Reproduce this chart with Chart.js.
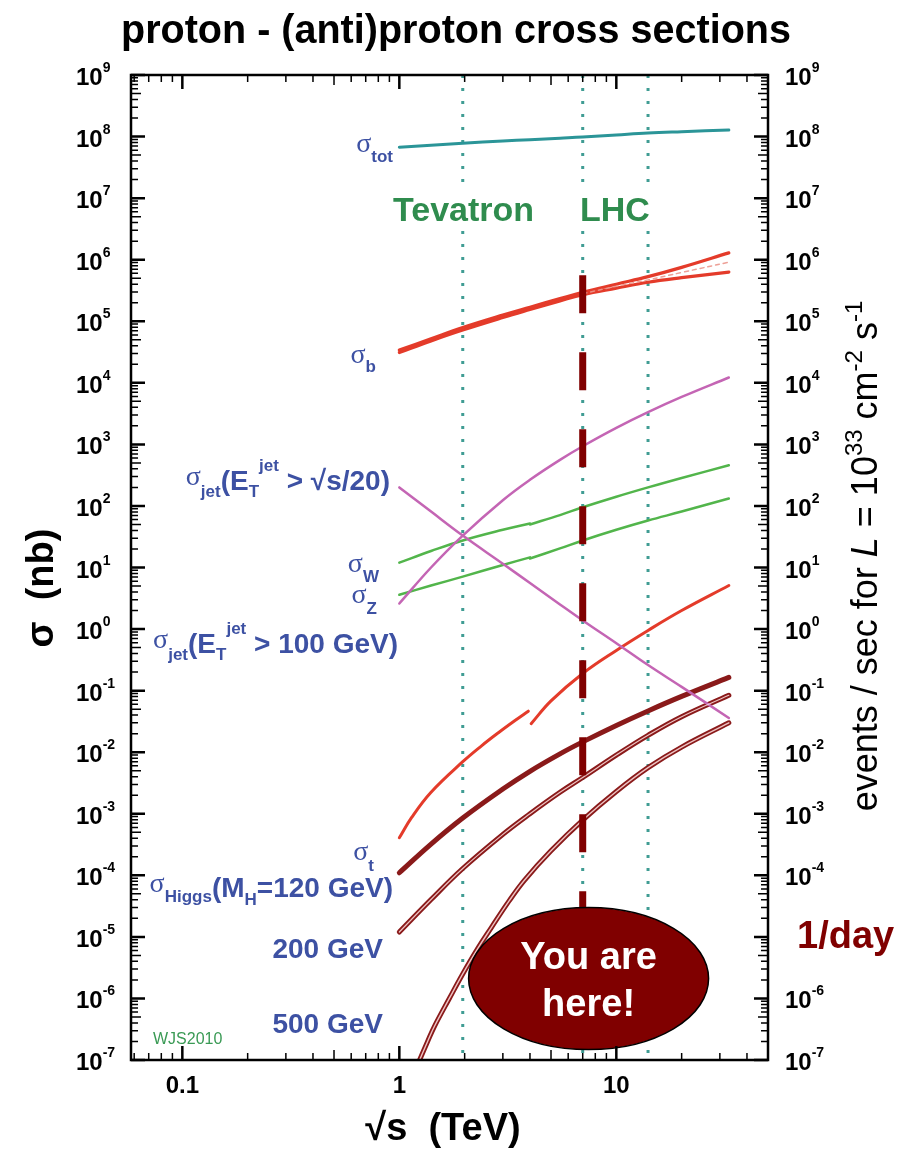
<!DOCTYPE html>
<html>
<head>
<meta charset="utf-8">
<title>proton - (anti)proton cross sections</title>
<script src="https://cdn.jsdelivr.net/npm/chart.js@4.4.1/dist/chart.umd.min.js"></script>
<style>
  html, body { margin: 0; padding: 0; background: #ffffff; }
  canvas { display: block; }
</style>
</head>
<body>
<canvas id="xsec" width="912" height="1150"></canvas>
<script>
// ---- data: cross sections in nb versus collision energy sqrt(s) in TeV ----
const energyGrid = [1, 1.4, 1.96, 3, 4, 5.5, 7, 10, 14, 20, 33];

const sigmaTot      = [6.7e7, 7.2e7, 7.8e7, 8.5e7, 8.9e7, 9.4e7, 9.8e7, 1.06e8, 1.14e8, 1.2e8, 1.28e8];
const sigmaBUpper   = [3.4e4, 5.2e4, 7.9e4, 1.26e5, 1.69e5, 2.33e5, 2.95e5, 4.0e5, 5.3e5, 7.5e5, 1.29e6];
const sigmaBLower   = [3.1e4, 4.8e4, 7.2e4, 1.15e5, 1.55e5, 2.14e5, 2.7e5, 3.45e5, 4.3e5, 5.1e5, 6.3e5];
const energyBCentral = [7, 10, 14, 20, 33];
const sigmaBCentral  = [2.8e5, 3.7e5, 4.7e5, 6.2e5, 9.1e5];

const sigmaJetScaled = [200, 81, 33, 11.5, 5.6, 2.51, 1.38, 0.59, 0.26, 0.115, 0.036];  // E_T > sqrt(s)/20
const sigmaJet100    = [2.6, 10, 33, 124, 266, 560, 931, 1850, 3330, 5890, 1.22e4];     // E_T > 100 GeV

const energyPpbar = [1, 1.4, 1.96, 3, 4];
const energyPp    = [4, 5.5, 7, 10, 14, 20, 33];
const sigmaWPpbar = [12, 18.5, 27.5, 41, 52];
const sigmaWPp    = [50, 71, 95, 141, 200, 285, 457];
const sigmaZPpbar = [3.6, 5.1, 7.1, 11, 14.6];
const sigmaZPp    = [14.0, 20.4, 27.5, 41, 58, 81, 132];

const energyTopPpbar = [1, 1.14, 1.4, 1.96, 2.4, 2.86, 3.4, 3.93];
const sigmaTopPpbar  = [4.07e-4, 8.73e-4, 2.24e-3, 7.0e-3, 1.28e-2, 2.07e-2, 3.24e-2, 4.64e-2];
const energyTopPp    = [4.05, 5, 7, 10, 14, 20, 33];
const sigmaTopPp     = [0.029, 0.068, 0.19, 0.45, 0.95, 2.0, 5.1];

const sigmaHiggs120 = [1.1e-4, 3.21e-4, 8.51e-4, 2.52e-3, 4.9e-3, 9.4e-3, 0.0147, 0.0272, 0.0468, 0.0805, 0.164];
const sigmaHiggs200 = [1.2e-5, 4.04e-5, 1.29e-4, 4.62e-4, 1.0e-3, 2.23e-3, 3.88e-3, 8.97e-3, 0.0188, 0.0377, 0.0841];
const energyHiggs500 = [1.24, 1.35, 1.45, 1.7, 1.96, 2.3, 2.65, 3.2, 3.77, 5, 7, 10, 14, 20, 33];
const sigmaHiggs500  = [1.0e-7, 2.0e-7, 3.5e-7, 1.0e-6, 2.5e-6, 6.5e-6, 1.4e-5, 3.8e-5, 8.3e-5, 2.5e-4, 7.9e-4, 2.3e-3, 5.6e-3, 0.0121, 0.030];

// collider energies
const tevatronEnergy = 1.96;
const lhcEnergies = [7, 14];
const currentLhcEnergy = 7;
const currentLineTop = 5.6e5;
const currentLineBottom = 2e-6;
const bubbleCenter = { energy: 7.45, sigma: 2.1e-6 };
const oneEventPerDay = 1 / 86400;   // events/s, equals sigma in nb at L = 1e33 cm^-2 s^-1

// axes
const energyRange = [0.058, 50];
const sigmaRange = [1e-7, 1e9];
const decadeExponents = [-7, -6, -5, -4, -3, -2, -1, 0, 1, 2, 3, 4, 5, 6, 7, 8, 9];
const rateAxisExponents = [-7, -6, -4, -3, -2, -1, 0, 1, 2, 3, 4, 5, 6, 7, 8, 9];  // 1e-5 slot carries "1/day"
const energyTickLabels = [0.1, 1, 10];

// ---- styling ----
const SANS = '"Liberation Sans", Arial, Helvetica, sans-serif';
const SERIF = '"Liberation Serif", "DejaVu Serif", serif';
const BLUE = '#3d51a3';
const GREEN_TEXT = '#2f8c4e';
const TEAL = '#2b9598';
const DOT_TEAL = '#3f9c93';
const RED = '#e43b2a';
const PURPLE = '#c465b4';
const GREEN = '#52b54b';
const DARK_RED = '#8a1a1a';
const MAROON = '#800000';

const pts = (xs, ys) => xs.map((x, i) => ({ x, y: ys[i] }));

function curve(xs, ys, color, width, extra) {
  return Object.assign({
    data: pts(xs, ys), showLine: true, borderColor: color, borderWidth: width,
    pointRadius: 0, fill: false, tension: 0.4,
    borderCapStyle: 'round', order: 2
  }, extra || {});
}

function verticalLine(energy, top, bottom, color, width, dash, order) {
  return {
    data: [{ x: energy, y: top }, { x: energy, y: bottom }], showLine: true,
    borderColor: color, borderWidth: width, borderDash: dash, pointRadius: 0,
    fill: false, tension: 0, borderCapStyle: 'butt', order: order
  };
}

const higgsCore = 'rgba(255,225,225,0.85)';

const datasets = [
  verticalLine(currentLhcEnergy, currentLineTop, currentLineBottom, MAROON, 7, [38, 39], 1),
  verticalLine(tevatronEnergy, sigmaRange[1], sigmaRange[0], DOT_TEAL, 3, [3, 10], 5),
  ...lhcEnergies.map(e => verticalLine(e, sigmaRange[1], sigmaRange[0], DOT_TEAL, 3, [3, 10], 5)),

  curve(energyGrid, sigmaTot, TEAL, 3),
  curve(energyGrid, sigmaBUpper, RED, 3.2),
  curve(energyGrid, sigmaBLower, RED, 3.2),
  curve(energyBCentral, sigmaBCentral, 'rgba(235,150,140,0.9)', 1.5, { borderDash: [4, 4], order: 1.5 }),
  curve(energyGrid, sigmaJetScaled, PURPLE, 2.5),
  curve(energyGrid, sigmaJet100, PURPLE, 2.5),
  curve(energyPpbar, sigmaWPpbar, GREEN, 2.5),
  curve(energyPp, sigmaWPp, GREEN, 2.5),
  curve(energyPpbar, sigmaZPpbar, GREEN, 2.5),
  curve(energyPp, sigmaZPp, GREEN, 2.5),
  curve(energyTopPpbar, sigmaTopPpbar, RED, 3),
  curve(energyTopPp, sigmaTopPp, RED, 3),
  curve(energyGrid, sigmaHiggs120, DARK_RED, 5),
  curve(energyGrid, sigmaHiggs200, DARK_RED, 5),
  curve(energyHiggs500, sigmaHiggs500, DARK_RED, 5),
  curve(energyGrid, sigmaHiggs200, higgsCore, 1.2, { order: 1.5 }),
  curve(energyHiggs500, sigmaHiggs500, higgsCore, 1.4, { order: 1.5 })
];

// ---- text helpers ----
function runsWidth(ctx, runs) {
  let w = 0;
  for (const r of runs) { ctx.font = r.font; w += ctx.measureText(r.t).width; }
  return w;
}
function drawRuns(ctx, runs, x, y, align) {
  const w = runsWidth(ctx, runs);
  let cx = align === 'right' ? x - w : align === 'center' ? x - w / 2 : x;
  ctx.textAlign = 'left';
  ctx.textBaseline = 'alphabetic';
  for (const r of runs) {
    ctx.font = r.font;
    ctx.fillText(r.t, cx, y + (r.dy || 0));
    cx += ctx.measureText(r.t).width;
  }
}

const fSig = '28px ' + SERIF;
const fSub = 'bold 17px ' + SANS;
const fMain = 'bold 28px ' + SANS;

const seriesLabels = [
  { x: 393, y: 152, runs: [{ t: 'σ', font: fSig }, { t: 'tot', font: fSub, dy: 10 }] },
  { x: 376, y: 363, runs: [{ t: 'σ', font: fSig }, { t: 'b', font: fSub, dy: 9 }] },
  { x: 390, y: 490, runs: [{ t: 'σ', font: fSig, dy: -5 }, { t: 'jet', font: fSub, dy: 7 },
      { t: '(E', font: fMain }, { t: 'T', font: fSub, dy: 7 }, { t: 'jet', font: fSub, dy: -19 },
      { t: ' > √s/20)', font: fMain }] },
  { x: 379, y: 572, runs: [{ t: 'σ', font: fSig }, { t: 'W', font: fSub, dy: 10 }] },
  { x: 377, y: 603, runs: [{ t: 'σ', font: fSig }, { t: 'Z', font: fSub, dy: 11 }] },
  { x: 398, y: 653, runs: [{ t: 'σ', font: fSig, dy: -5 }, { t: 'jet', font: fSub, dy: 7 },
      { t: '(E', font: fMain }, { t: 'T', font: fSub, dy: 7 }, { t: 'jet', font: fSub, dy: -19 },
      { t: ' > 100 GeV)', font: fMain }] },
  { x: 374, y: 860, runs: [{ t: 'σ', font: fSig }, { t: 't', font: fSub, dy: 11 }] },
  { x: 393, y: 897, runs: [{ t: 'σ', font: fSig, dy: -5 }, { t: 'Higgs', font: fSub, dy: 5 },
      { t: '(M', font: fMain }, { t: 'H', font: fSub, dy: 8 }, { t: '=120 GeV)', font: fMain }] },
  { x: 383, y: 958, runs: [{ t: '200 GeV', font: fMain }] },
  { x: 383, y: 1033, runs: [{ t: '500 GeV', font: fMain }] }
];

function drawTicks(ctx, chart) {
  const a = chart.chartArea;
  const xs = chart.scales.x, ys = chart.scales.y;
  const len = m => (m === 1 ? 14 : m === 5 ? 10 : 7);
  ctx.strokeStyle = '#000';
  // vertical axis ticks, both sides, pointing inward
  for (let e = -8; e <= 9; e++) {
    for (let m = 1; m <= 9; m++) {
      const v = m * Math.pow(10, e);
      if (v < sigmaRange[0] * 0.999 || v > sigmaRange[1] * 1.001) continue;
      const py = ys.getPixelForValue(v);
      ctx.lineWidth = m === 1 ? 2.5 : 1.5;
      ctx.beginPath();
      ctx.moveTo(a.left, py); ctx.lineTo(a.left + len(m), py);
      ctx.moveTo(a.right, py); ctx.lineTo(a.right - len(m), py);
      ctx.stroke();
    }
  }
  // horizontal axis ticks, top and bottom
  for (let e = -2; e <= 1; e++) {
    for (let m = 1; m <= 9; m++) {
      const v = m * Math.pow(10, e);
      if (v < energyRange[0] * 0.999 || v > energyRange[1] * 1.001) continue;
      const px = xs.getPixelForValue(v);
      ctx.lineWidth = m === 1 ? 2.5 : 1.5;
      ctx.beginPath();
      ctx.moveTo(px, a.bottom); ctx.lineTo(px, a.bottom - len(m));
      ctx.moveTo(px, a.top); ctx.lineTo(px, a.top + len(m));
      ctx.stroke();
    }
  }
}

function drawDecadeLabel(ctx, exp, x, py) {
  ctx.fillStyle = '#000';
  drawRuns(ctx, [
    { t: '10', font: 'bold 24px ' + SANS, dy: 10 },
    { t: exp < 0 ? '-' + (-exp) : String(exp), font: 'bold 14px ' + SANS, dy: -3 }
  ], x, py, 'left');
}

const decorations = {
  id: 'decorations',
  beforeDraw(chart) {
    const ctx = chart.ctx;
    ctx.save();
    ctx.fillStyle = '#fff';
    ctx.fillRect(0, 0, chart.width, chart.height);
    ctx.restore();
  },
  afterDatasetsDraw(chart) {
    const ctx = chart.ctx;
    const a = chart.chartArea;
    const xs = chart.scales.x, ys = chart.scales.y, ys2 = chart.scales.y2;
    ctx.save();

    // collider names over the dotted energy markers
    ctx.font = 'bold 34px ' + SANS;
    ctx.textBaseline = 'alphabetic';
    ctx.textAlign = 'left';
    const colliders = [{ t: 'Tevatron', x: 393 }, { t: 'LHC', x: 580 }];
    for (const c of colliders) {
      const w = ctx.measureText(c.t).width;
      ctx.fillStyle = '#fff';
      ctx.fillRect(c.x - 2, 187, w + 4, 42);
      ctx.fillStyle = GREEN_TEXT;
      ctx.fillText(c.t, c.x, 221);
    }

    // series labels
    ctx.fillStyle = BLUE;
    for (const l of seriesLabels) drawRuns(ctx, l.runs, l.x, l.y, 'right');

    ctx.fillStyle = '#3a9a55';
    ctx.font = '16px ' + SANS;
    ctx.textAlign = 'left';
    ctx.fillText('WJS2010', 153, 1044);

    // "You are here!" bubble
    const bx = xs.getPixelForValue(bubbleCenter.energy);
    const by = ys.getPixelForValue(bubbleCenter.sigma);
    ctx.beginPath();
    ctx.ellipse(bx, by, 120, 71, 0, 0, Math.PI * 2);
    ctx.fillStyle = MAROON;
    ctx.fill();
    ctx.lineWidth = 1.5;
    ctx.strokeStyle = '#000';
    ctx.stroke();
    ctx.fillStyle = '#fff';
    ctx.font = 'bold 38px ' + SANS;
    ctx.textAlign = 'center';
    ctx.fillText('You are', bx, by - 10);
    ctx.fillText('here!', bx, by + 37);

    // frame and ticks
    ctx.lineWidth = 2.5;
    ctx.strokeStyle = '#000';
    ctx.strokeRect(a.left, a.top, a.right - a.left, a.bottom - a.top);
    drawTicks(ctx, chart);

    // decade labels on both vertical axes
    for (const e of decadeExponents) drawDecadeLabel(ctx, e, 76, ys.getPixelForValue(Math.pow(10, e)));
    for (const e of rateAxisExponents) drawDecadeLabel(ctx, e, 785, ys2.getPixelForValue(Math.pow(10, e)));

    // energy labels
    ctx.fillStyle = '#000';
    ctx.font = 'bold 24px ' + SANS;
    ctx.textAlign = 'center';
    for (const v of energyTickLabels) ctx.fillText(String(v), xs.getPixelForValue(v), 1093);

    // one event per day marker on the rate axis
    ctx.fillStyle = MAROON;
    ctx.font = 'bold 38px ' + SANS;
    ctx.textAlign = 'left';
    ctx.fillText('1/day', 797, ys2.getPixelForValue(oneEventPerDay) + 15);

    // title
    ctx.fillStyle = '#000';
    ctx.font = 'bold 40px ' + SANS;
    ctx.textAlign = 'center';
    const tw = ctx.measureText('proton - (anti)proton cross sections').width;
    ctx.save();
    ctx.translate(456, 43);
    ctx.scale(670 / tw, 1);
    ctx.fillText('proton - (anti)proton cross sections', 0, 0);
    ctx.restore();

    // x axis title
    ctx.font = 'bold 38px ' + SANS;
    ctx.fillText('√s  (TeV)', 443, 1140);

    // left axis title
    ctx.save();
    ctx.translate(53, 588);
    ctx.rotate(-Math.PI / 2);
    ctx.font = 'bold 38px ' + SANS;
    ctx.textAlign = 'center';
    ctx.fillText('σ  (nb)', 0, 0);
    ctx.restore();

    // right axis title
    ctx.save();
    ctx.translate(877, 556);
    ctx.rotate(-Math.PI / 2);
    ctx.fillStyle = '#000';
    const reg = '36px ' + SANS, sup = '24px ' + SANS;
    drawRuns(ctx, [
      { t: 'events / sec for ', font: reg },
      { t: 'L', font: 'italic 36px ' + SANS },
      { t: ' = 10', font: reg },
      { t: '33', font: sup, dy: -15 },
      { t: ' cm', font: reg },
      { t: '-2', font: sup, dy: -15 },
      { t: ' s', font: reg },
      { t: '-1', font: sup, dy: -15 }
    ], 0, 0, 'center');
    ctx.restore();

    ctx.restore();
  }
};

new Chart(document.getElementById('xsec').getContext('2d'), {
  type: 'scatter',
  data: { datasets },
  options: {
    responsive: false,
    animation: false,
    devicePixelRatio: 1,
    events: [],
    layout: { padding: { left: 131, right: 144, top: 75, bottom: 90 } },
    plugins: { legend: { display: false }, tooltip: { enabled: false }, title: { display: false } },
    scales: {
      x: { type: 'logarithmic', min: energyRange[0], max: energyRange[1], display: false },
      y: { type: 'logarithmic', min: sigmaRange[0], max: sigmaRange[1], display: false },
      y2: { type: 'logarithmic', position: 'right', min: sigmaRange[0], max: sigmaRange[1], display: false }
    }
  },
  plugins: [decorations]
});
</script>
</body>
</html>
